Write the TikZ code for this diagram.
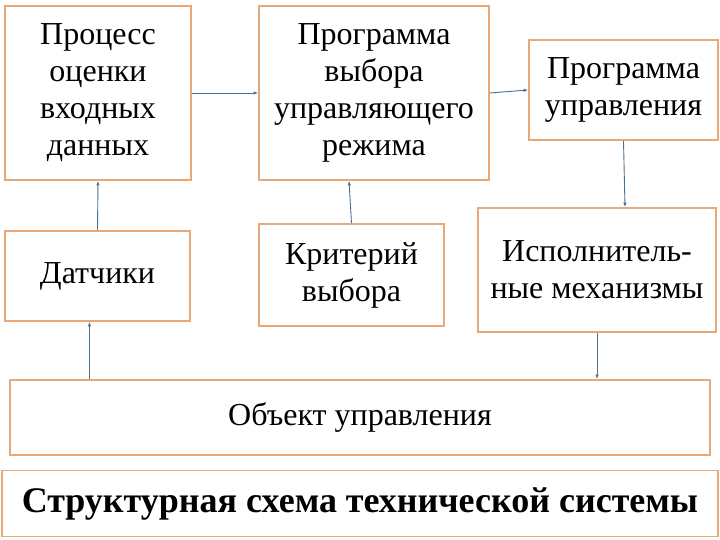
\documentclass[tikz,border=0pt]{standalone}
\usepackage{fontspec}
\setmainfont{Liberation Serif}
\usetikzlibrary{arrows.meta}
\definecolor{boxc}{HTML}{E9A877}
\definecolor{arrc}{HTML}{4F6F8F}

\begin{document}
\begin{tikzpicture}[x=1pt,y=-1pt,
  blk/.style={rectangle,draw=boxc,line width=1.6pt,fill=white,inner sep=2pt,align=center,
    font=\fontsize{32}{37}\selectfont},
  a/.style={-{Latex[length=1.6mm,width=1.2mm]},draw=arrc,line width=0.9pt}]

\useasboundingbox (0,0) rectangle (720,540);

% upper row
\node[blk,minimum width=186,minimum height=174] (proc) at (98,93) {Процесс\\оценки\\входных\\данных};
\node[blk,minimum width=230,minimum height=174] (prog) at (374,93) {Программа\\выбора\\управляющего\\режима};
\node[blk,minimum width=189,minimum height=100] (ctrl) at (623.5,90) {Программа\\управления};

% middle row
\node[blk,minimum width=185,minimum height=90] (sens) at (97.5,276) {Датчики};
\node[blk,minimum width=185,minimum height=102] (crit) at (351.5,275) {Критерий\\выбора};
\node[blk,minimum width=238,minimum height=124] (act) at (597,270) {Исполнитель-\\ные механизмы};

% object and caption
\node[blk,minimum width=700,minimum height=75] (obj) at (360,417.5) {Объект управления};
\node[blk,minimum width=716,minimum height=66,font=\bfseries\fontsize{36}{40}\selectfont] (ttl) at (360,503.5) {Структурная схема технической системы};

% connectors
\draw[a] (sens.north) -- (proc.south);
\draw[a] (proc.east) -- (prog.west);
\draw[a] (prog.east) -- (ctrl.west);
\draw[a] (crit.north) -- ([xshift=-25]prog.south);
\draw[a] (ctrl.south) -- ([xshift=28]act.north);
\draw[a] (act.south) -- (act.south |- obj.north);
\draw[a] ([xshift=-8]sens.south |- obj.north) -- ([xshift=-8]sens.south);
\end{tikzpicture}
\end{document}
